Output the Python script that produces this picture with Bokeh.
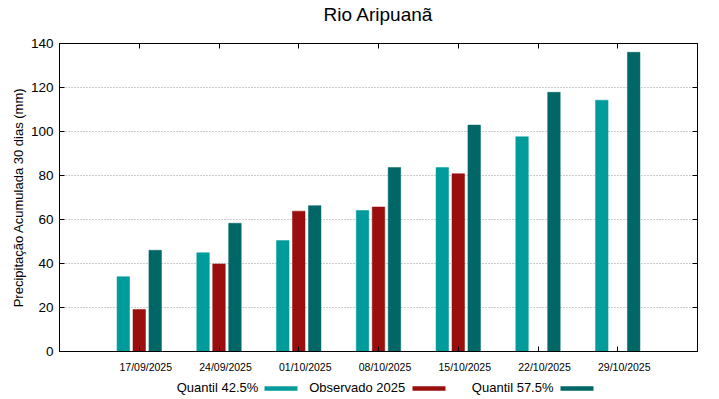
from bokeh.plotting import figure
from bokeh.models import Range1d, FixedTicker, LinearAxis
from bokeh.embed import file_html
from bokeh.resources import INLINE

# ---- data ----
dates = ["17/09/2025", "24/09/2025", "01/10/2025", "08/10/2025",
         "15/10/2025", "22/10/2025", "29/10/2025"]
q425 = [34.0, 44.9, 50.4, 64.1, 83.6, 97.6, 114.2]
obs2025 = [19.1, 39.8, 63.8, 65.7, 80.8, None, None]
q575 = [46.0, 58.3, 66.3, 83.6, 102.9, 117.8, 136.0]
series_names = ["Quantil 42.5%", "Observado 2025", "Quantil 57.5%"]
y_ticks = [0, 20, 40, 60, 80, 100, 120, 140]

colors = ["#009b9b", "#9a0e0e", "#006666"]
FONT = "Liberation Sans"

# ---- layout constants (pixels) ----
W, H = 711, 397
LEFT, RIGHT, TOP, BOTTOM = 59, 14, 43, 46
frame_w = W - LEFT - RIGHT
X0, X1 = 0, 8
px_per_unit = frame_w / (X1 - X0)


def px_to_x(px):
    """canvas pixel column -> data x (for legend placement in the bottom panel)"""
    return X0 + (px - LEFT) / px_per_unit


p = figure(width=W, height=H, output_backend="svg", toolbar_location=None,
           x_range=Range1d(X0, X1), y_range=Range1d(0, 140),
           min_border_left=LEFT, min_border_right=RIGHT, min_border_top=TOP,
           min_border_bottom=BOTTOM)
p.background_fill_color = "white"
p.border_fill_color = "white"
p.outline_line_color = "black"
p.outline_line_width = 1

xs = [i + 1 for i in range(len(dates))]
offsets = [-0.2, 0.0, 0.2]
for vals, off, col in zip([q425, obs2025, q575], offsets, colors):
    xx = [x + off for x, v in zip(xs, vals) if v is not None]
    vv = [v for v in vals if v is not None]
    p.vbar(x=xx, top=vv, bottom=0, width=0.157, fill_color=col,
           line_color=col, line_width=0.5)

# grid
p.xgrid.visible = False
p.ygrid.ticker = FixedTicker(ticks=y_ticks[1:-1])
p.ygrid.grid_line_color = "#999999"
p.ygrid.grid_line_dash = "1 2"
p.ygrid.grid_line_width = 1


def no_labels(ax):
    ax.major_label_text_font_size = "0px"
    ax.major_label_text_color = None
    ax.major_label_standoff = 0


def add_gap(ax, gap):
    """reserve extra room in a side panel with an invisible axis label"""
    ax.axis_label = " "
    ax.axis_label_text_font_size = "1px"
    ax.axis_label_text_color = "white"
    ax.axis_label_standoff = gap


# left axis
ya = p.yaxis[0]
ya.ticker = FixedTicker(ticks=y_ticks)
ya.major_tick_in = 5
ya.major_tick_out = 0
ya.minor_tick_in = 0
ya.minor_tick_out = 0
ya.major_label_standoff = 6
ya.major_label_text_font = FONT
ya.major_label_text_font_size = "13.5px"
ya.major_label_text_color = "black"
ya.axis_line_color = "black"
ya.axis_label = "Precipitação Acumulada 30 dias (mm)"
ya.axis_label_text_font = FONT
ya.axis_label_text_font_size = "13px"
ya.axis_label_text_font_style = "normal"
ya.axis_label_text_color = "black"
ya.axis_label_standoff = 2

# bottom axis: inward tick marks only
xa = p.xaxis[0]
xa.ticker = FixedTicker(ticks=xs)
xa.major_tick_in = 5
xa.major_tick_out = 0
xa.minor_tick_in = 0
xa.minor_tick_out = 0
xa.axis_line_color = "black"
no_labels(xa)

# second bottom axis carrying the date labels (shifted a little right, as in the original)
shift = 6.5 / px_per_unit
label_ticks = [x + shift for x in xs]
la = LinearAxis(ticker=FixedTicker(ticks=label_ticks),
                major_label_overrides={t: d for t, d in zip(label_ticks, dates)},
                major_tick_in=0, major_tick_out=0, minor_tick_in=0, minor_tick_out=0,
                axis_line_color=None, major_label_standoff=9,
                major_label_text_font=FONT, major_label_text_font_size="10.5px",
                major_label_text_color="black")
p.add_layout(la, "below")

# spacer before the legend row
sp = LinearAxis(ticker=FixedTicker(ticks=[]), major_tick_in=0, major_tick_out=0,
                minor_tick_in=0, minor_tick_out=0, axis_line_color=None)
no_labels(sp)
add_gap(sp, 9)
p.add_layout(sp, "below")

# legend samples (thick rules) placed after the text, gnuplot style
sample_left_px = [264, 412, 559.5]
sample_len_px = 33
for col, lpx in zip(colors, sample_left_px):
    sa = LinearAxis(ticker=FixedTicker(ticks=[]), bounds=(px_to_x(lpx), px_to_x(lpx + sample_len_px)),
                    major_tick_in=0, major_tick_out=0, minor_tick_in=0, minor_tick_out=0,
                    axis_line_color=col, axis_line_width=4.5, axis_line_cap="butt")
    no_labels(sa)
    p.add_layout(sa, "below")

# legend texts
text_center_px = [217, 356.7, 512.2]
text_ticks = [px_to_x(c) for c in text_center_px]
lt = LinearAxis(ticker=FixedTicker(ticks=text_ticks),
                major_label_overrides={t: n for t, n in zip(text_ticks, series_names)},
                major_tick_in=0, major_tick_out=0, minor_tick_in=0, minor_tick_out=0,
                axis_line_color=None, major_label_standoff=-9,
                major_label_text_font=FONT, major_label_text_font_size="13px",
                major_label_text_color="black")
p.add_layout(lt, "below")

# mirror axes
ra = LinearAxis(ticker=FixedTicker(ticks=y_ticks), major_tick_in=5, major_tick_out=0,
                minor_tick_in=0, minor_tick_out=0, axis_line_color="black")
no_labels(ra)
p.add_layout(ra, "right")
ta = LinearAxis(ticker=FixedTicker(ticks=xs), major_tick_in=5, major_tick_out=0,
                minor_tick_in=0, minor_tick_out=0, axis_line_color="black")
no_labels(ta)
add_gap(ta, 15)
p.add_layout(ta, "above")

# title
p.title.text = "Rio Aripuanã"
p.title.align = "center"
p.title.text_font = FONT
p.title.text_font_size = "19px"
p.title.text_font_style = "normal"
p.title.text_color = "black"
p.title.standoff = 0

open("out.html", "w").write(file_html(p, INLINE))
